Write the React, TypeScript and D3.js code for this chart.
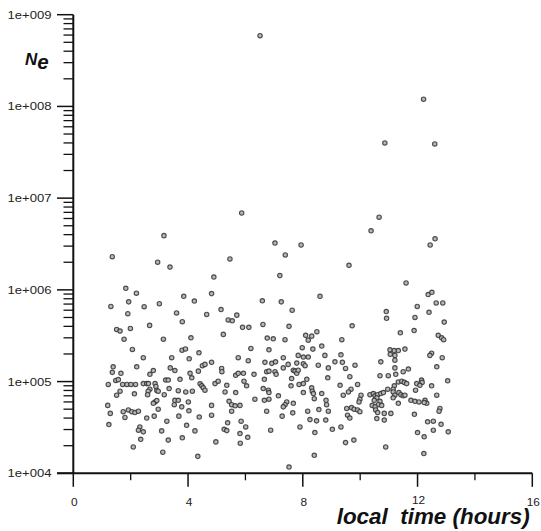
import React from "react";
import * as d3 from "d3";

// Local time (hours) of each observation
const localTime: number[] = [
  // high values
  6.51, 12.21, 10.86, 12.60, 5.87, 10.66, 3.16, 10.38, 12.61,
  // group A
  1.36, 2.94, 3.37, 4.90, 1.83, 2.20, 4.82, 3.85, 4.22, 1.93,
  1.31, 2.47, 3.00, 3.60, 4.65, 1.90, 3.80, 2.66, 1.51, 1.63,
  1.99, 1.77, 3.14, 4.10, 2.06, 3.79, 3.91, 4.38, 2.44, 3.43,
  4.04,
  // group B
  7.03, 7.94, 7.39, 5.46, 7.20, 8.60, 6.59, 7.25, 7.63, 5.15,
  5.70, 5.40, 5.54, 6.61, 7.52, 5.90, 6.12, 8.49, 5.23, 8.10,
  8.31, 8.19, 6.76, 6.97, 7.38, 8.66, 7.98, 8.35, 6.19, 6.82,
  8.77, 7.84, 8.02, 8.19, 5.75, 7.32,
  // group C
  12.44, 9.61, 11.60, 12.37, 12.50, 12.65, 12.88, 11.99, 10.91, 12.40,
  10.92, 11.91, 12.93, 9.72, 11.88, 11.40, 9.36, 12.72, 12.84, 12.91,
  11.04, 11.19, 11.33, 11.56, 11.05, 11.21, 12.49, 12.43, 9.33, 12.86,
  // group D
  1.39, 2.21, 3.38, 3.54, 2.79, 2.67, 1.36, 1.66, 4.36, 4.50,
  4.59, 4.82, 4.07, 4.13, 3.72, 3.22, 3.31, 1.48, 1.57, 1.22,
  1.72, 1.87, 2.01, 2.17, 2.44, 2.56, 2.62, 2.85, 2.88, 4.42,
  4.48, 4.53, 4.59, 2.67, 2.61, 2.59, 2.91, 2.96, 1.63, 1.51,
  2.13, 3.34, 3.66, 3.92, 4.15, 3.17, 3.54, 3.66, 4.01, 2.85,
  2.91, 2.79, 1.20, 3.52, 3.78, 4.82, 2.96, 1.74, 1.92, 2.04,
  2.15, 2.27, 4.03, 1.29, 1.80, 2.56, 2.82, 3.68, 4.39, 4.82,
  3.26, 1.24, 3.95, 2.32, 2.27, 2.44, 3.08, 4.24, 2.35, 3.31,
  3.80, 2.09, 3.12, 4.34,
  // group E
  5.17, 5.18, 6.10, 6.68, 6.92, 7.05, 7.49, 7.79, 8.02, 8.08,
  8.54, 8.89, 6.74, 6.82, 7.03, 7.07, 7.67, 7.73, 7.79, 7.32,
  7.61, 7.84, 5.66, 5.75, 5.93, 6.30, 6.66, 8.14, 8.87, 4.94,
  5.05, 5.35, 5.95, 6.04, 7.59, 7.87, 8.02, 6.62, 6.80, 6.82,
  5.29, 5.66, 8.02, 8.31, 8.33, 8.37, 8.66, 7.15, 6.33, 6.66,
  6.82, 8.40, 8.81, 8.83, 5.43, 5.52, 5.64, 5.81, 7.44, 7.38,
  7.32, 7.67, 5.52, 6.74, 7.28, 7.65, 8.17, 8.56, 8.89, 8.25,
  8.48, 8.80, 5.38, 5.85, 7.90, 6.01, 5.26, 5.35, 6.88, 8.42,
  9.03, 5.81, 6.08, 4.97, 5.82, 8.40, 7.52,
  // group F
  9.12, 9.38, 9.49, 9.82, 10.72, 11.21, 11.21, 12.67, 9.64, 10.69,
  10.98, 11.24, 11.50, 11.68, 11.33, 11.45, 11.54, 11.62, 11.19, 11.15,
  11.97, 12.14, 12.16, 12.08, 11.93, 12.49, 13.05, 9.30, 9.68, 9.59,
  9.41, 9.91, 10.96, 10.34, 10.46, 10.52, 10.61, 10.72, 10.58, 10.49,
  10.81, 11.15, 11.21, 11.35, 11.42, 11.50, 11.56, 11.15, 10.03, 9.99,
  9.96, 10.69, 10.63, 10.42, 10.52, 10.75, 11.33, 11.77, 11.91, 12.05,
  12.26, 12.32, 12.23, 12.67, 9.53, 9.70, 9.79, 9.91, 9.99, 9.56,
  9.64, 10.54, 10.61, 10.84, 11.07, 11.89, 12.78, 12.75, 10.58, 10.84,
  9.33, 12.35, 12.55, 12.82, 12.00, 12.23, 12.55, 13.07, 9.49, 9.78,
  10.89, 12.22,
];

// Electron density Ne of each observation
const electronDensity: number[] = [
  // high values
  5.9e8, 1.2e8, 4.0e7, 3.9e7, 6.9e6, 6.2e6, 3.9e6, 4.4e6, 3.6e6,
  // group A
  2.3e6, 2.0e6, 1.77e6, 1.38e6, 1.04e6, 9.2e5, 9.1e5, 8.5e5, 7.55e5, 7.4e5,
  6.6e5, 6.55e5, 7.07e5, 5.6e5, 5.4e5, 5.5e5, 4.5e5, 4.1e5, 3.7e5, 3.55e5,
  3.8e5, 2.9e5, 2.9e5, 3.0e5, 2.24e5, 2.2e5, 2.27e5, 2.06e5, 1.82e5, 1.82e5,
  1.77e5,
  // group B
  3.24e6, 3.09e6, 2.4e6, 2.17e6, 1.43e6, 8.5e5, 7.6e5, 7.4e5, 6.0e5, 6.1e5,
  5.3e5, 4.7e5, 4.6e5, 4.2e5, 4.0e5, 3.9e5, 3.9e5, 3.5e5, 3.27e5, 3.19e5,
  3.13e5, 2.83e5, 2.98e5, 2.93e5, 2.86e5, 2.44e5, 2.34e5, 2.26e5, 2.3e5, 2.22e5,
  1.93e5, 1.93e5, 1.85e5, 1.85e5, 1.82e5, 1.82e5,
  // group C
  3.09e6, 1.85e6, 1.19e6, 8.9e5, 9.4e5, 7.2e5, 7.2e5, 6.6e5, 5.8e5, 5.7e5,
  4.9e5, 5.0e5, 4.45e5, 4.06e5, 3.6e5, 3.4e5, 2.86e5, 3.19e5, 3.0e5, 2.86e5,
  2.22e5, 2.18e5, 2.18e5, 2.26e5, 1.98e5, 1.93e5, 2.04e5, 1.93e5, 1.96e5, 1.82e5,
  // group D
  1.45e5, 1.45e5, 1.41e5, 1.32e5, 1.32e5, 1.2e5, 1.26e5, 1.23e5, 1.3e5, 1.49e5,
  1.54e5, 1.62e5, 1.23e5, 1.1e5, 1.06e5, 1.04e5, 1.04e5, 1.03e5, 1.05e5, 9.3e4,
  9.3e4, 9.3e4, 9.3e4, 9.3e4, 9.5e4, 9.5e4, 9.5e4, 9.5e4, 8.85e4, 9.45e4,
  9.0e4, 8.55e4, 8.05e4, 8.25e4, 7.85e4, 7.2e4, 8.0e4, 7.85e4, 7.85e4, 7.1e4,
  7.35e4, 8.4e4, 7.95e4, 7.7e4, 7.85e4, 7.2e4, 6.25e4, 6.25e4, 6.0e4, 6.0e4,
  6.2e4, 5.8e4, 5.5e4, 5.6e4, 5.3e4, 5.5e4, 5.0e4, 4.7e4, 4.9e4, 4.7e4,
  4.6e4, 4.75e4, 4.8e4, 4.5e4, 4.06e4, 4.0e4, 4.2e4, 4.2e4, 4.1e4, 4.3e4,
  3.7e4, 3.4e4, 3.34e4, 3.2e4, 2.95e4, 2.83e4, 2.9e4, 2.9e4, 2.35e4, 2.3e4,
  2.44e4, 1.94e4, 1.7e4, 1.53e4,
  // group E
  1.39e5, 1.28e5, 1.69e5, 1.62e5, 1.58e5, 1.64e5, 1.54e5, 1.59e5, 1.56e5, 1.49e5,
  1.51e5, 1.41e5, 1.28e5, 1.3e5, 1.28e5, 1.2e5, 1.33e5, 1.3e5, 1.23e5, 1.41e5,
  1.08e5, 1.33e5, 1.17e5, 1.23e5, 1.23e5, 1.2e5, 1.06e5, 1.06e5, 1.1e5, 9.5e4,
  1.01e5, 9.1e4, 1.01e5, 9.0e4, 9.0e4, 9.3e4, 9.5e4, 8.4e4, 8.05e4, 7.6e4,
  7.7e4, 7.6e4, 7.6e4, 8.55e4, 7.85e4, 7.4e4, 7.4e4, 7.0e4, 6.43e4, 6.25e4,
  6.43e4, 6.5e4, 6.25e4, 5.6e4, 6.1e4, 5.6e4, 5.45e4, 5.5e4, 6.0e4, 5.6e4,
  5.3e4, 5.8e4, 4.75e4, 4.75e4, 4.2e4, 4.56e4, 4.75e4, 4.96e4, 4.75e4, 3.85e4,
  3.73e4, 3.8e4, 3.55e4, 3.7e4, 3.2e4, 3.2e4, 3.02e4, 2.92e4, 2.95e4, 2.78e4,
  3.02e4, 2.71e4, 2.47e4, 2.2e4, 2.13e4, 1.57e4, 1.17e4,
  // group F
  1.64e5, 1.62e5, 1.39e5, 1.51e5, 1.64e5, 1.71e5, 1.41e5, 1.45e5, 1.13e5, 1.16e5,
  1.16e5, 1.2e5, 1.28e5, 1.37e5, 9.9e4, 1.01e5, 9.8e4, 9.5e4, 9.0e4, 8.25e4,
  9.5e4, 1.04e5, 9.8e4, 9.1e4, 8.05e4, 9.0e4, 1.02e5, 9.1e4, 8.25e4, 7.7e4,
  7.1e4, 9.3e4, 8.25e4, 7.2e4, 7.4e4, 7.0e4, 7.2e4, 7.4e4, 6.65e4, 6.25e4,
  7.6e4, 7.7e4, 7.1e4, 7.6e4, 7.2e4, 7.0e4, 7.1e4, 6.65e4, 7.1e4, 6.43e4,
  6.0e4, 6.1e4, 5.6e4, 5.5e4, 5.3e4, 5.5e4, 5.8e4, 6.25e4, 6.1e4, 6.0e4,
  6.25e4, 5.8e4, 5.9e4, 7.1e4, 5.1e4, 5.2e4, 5.0e4, 4.9e4, 4.7e4, 4.3e4,
  4.0e4, 4.9e4, 4.6e4, 4.5e4, 4.5e4, 4.4e4, 5.1e4, 4.75e4, 3.95e4, 3.8e4,
  3.2e4, 3.64e4, 3.7e4, 3.42e4, 2.78e4, 2.5e4, 2.95e4, 2.83e4, 2.16e4, 2.3e4,
  1.94e4, 1.64e4,
];

const xMajorTicks = [0, 4, 8, 12, 16];
const xMinorTicks = [2, 6, 10, 14];
const yDecades = [1e4, 1e5, 1e6, 1e7, 1e8, 1e9];
const yTickLabels = ["1e+004", "1e+005", "1e+006", "1e+007", "1e+008", "1e+009"];

const W = 541;
const H = 531;
const FONT = "'Liberation Sans', Arial, Helvetica, sans-serif";

export default function App() {
  const x = d3.scaleLinear().domain([0, 16]).range([73.3, 532.3]);
  const y = d3.scaleLog().domain([1e4, 1e9]).range([473.3, 14.7]);

  const minorY: number[] = [];
  for (let k = 0; k < yDecades.length - 1; k++) {
    for (let m = 2; m <= 9; m++) minorY.push(yDecades[k] * m);
  }

  const n = Math.min(localTime.length, electronDensity.length);
  const points = d3.range(n).map((i) => [localTime[i], electronDensity[i]] as [number, number]);

  const x0 = x(0);
  const yBase = y(1e4);

  return (
    <svg
      width={W}
      height={H}
      viewBox={`0 0 ${W} ${H}`}
      style={{ position: "absolute", left: 0, top: 0, background: "#fff" }}
    >
      <rect x={0} y={0} width={W} height={H} fill="#fff" />
      {/* points */}
      <g>
        {points.map(([h, v], i) => (
          <circle
            key={i}
            cx={x(h)}
            cy={y(v)}
            r={2.2}
            fill="#b8b8b8"
            stroke="#333"
            strokeWidth={1.15}
            strokeOpacity={0.85}
          />
        ))}
      </g>
      {/* y axis */}
      <line x1={x0} x2={x0} y1={y(1e9)} y2={yBase} stroke="#111" strokeWidth={2} />
      {yDecades.map((d) => (
        <line key={"ym" + d} x1={57} x2={x0} y1={y(d)} y2={y(d)} stroke="#111" strokeWidth={1.5} />
      ))}
      {minorY.map((d) => (
        <line key={"yn" + d} x1={63.5} x2={x0} y1={y(d)} y2={y(d)} stroke="#111" strokeWidth={1.3} />
      ))}
      {yDecades.map((d, i) => (
        <text
          key={"yl" + d}
          x={51.5}
          y={y(d) + 4}
          textAnchor="end"
          fontFamily={FONT}
          fontSize={11}
          fill="#222"
          textLength={44}
          lengthAdjust="spacingAndGlyphs"
        >
          {yTickLabels[i]}
        </text>
      ))}
      {/* x axis */}
      <line x1={57} x2={x(16)} y1={yBase} y2={yBase} stroke="#111" strokeWidth={2} />
      {xMajorTicks.map((t) => (
        <line key={"xm" + t} x1={x(t)} x2={x(t)} y1={yBase} y2={yBase + 13.5} stroke="#111" strokeWidth={1.5} />
      ))}
      {xMinorTicks.map((t) => (
        <line key={"xn" + t} x1={x(t)} x2={x(t)} y1={yBase} y2={yBase + 7} stroke="#111" strokeWidth={1.3} />
      ))}
      {xMajorTicks.map((t) => (
        <text
          key={"xl" + t}
          x={x(t) + 1}
          y={t === 12 ? 504 : 505.5}
          textAnchor="middle"
          fontFamily={FONT}
          fontSize={10.5}
          fill="#222"
          textLength={String(t).length * 6.6}
          lengthAdjust="spacingAndGlyphs"
        >
          {String(t)}
        </text>
      ))}
      {/* axis titles */}
      <text
        x={336.7}
        y={523.5}
        fontFamily={FONT}
        fontSize={22}
        fontWeight="bold"
        fontStyle="italic"
        fill="#111"
        textLength={193}
        lengthAdjust="spacingAndGlyphs"
        style={{ whiteSpace: "pre" }}
      >
        {"local  time (hours)"}
      </text>
      <text x={25} y={65} fontFamily={FONT} fontWeight="bold" fontStyle="italic" fill="#111">
        <tspan fontSize={17}>N</tspan>
        <tspan x={37.3} y={69} fontSize={20.5}>e</tspan>
      </text>
    </svg>
  );
}
